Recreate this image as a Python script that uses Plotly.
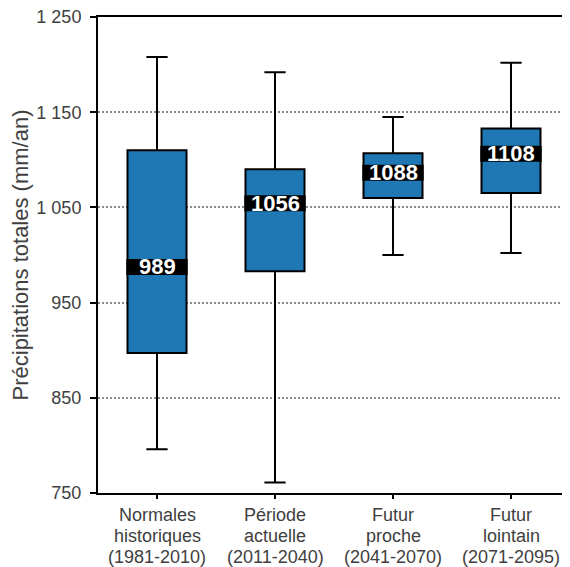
import plotly.graph_objects as go

categories = ["Normales<br>historiques<br>(1981-2010)",
              "Période<br>actuelle<br>(2011-2040)",
              "Futur<br>proche<br>(2041-2070)",
              "Futur<br>lointain<br>(2071-2095)"]
lower_whisker = [796, 761, 1000, 1002]
q1_values = [897, 983, 1060, 1065]
median_values = [989, 1056, 1088, 1108]
q3_values = [1110, 1090, 1107, 1133]
upper_whisker = [1208, 1192, 1145, 1202]

y_ticks = [750, 850, 950, 1050, 1150, 1250]
y_tick_labels = ["750", "850", "950", "1 050", "1 150", "1 250"]

positions = list(range(len(categories)))
BLUE = "#1f77b4"
TXT = "#404040"
FONT = "Liberation Sans, Arial"

fig = go.Figure()
fig.add_trace(go.Box(
    x=positions,
    q1=q1_values, median=median_values, q3=q3_values,
    lowerfence=lower_whisker, upperfence=upper_whisker,
    width=0.5, whiskerwidth=0.36,
    fillcolor=BLUE,
    line=dict(color="black", width=2),
    boxpoints=False, hoverinfo="skip", showlegend=False,
))

for i, m in zip(positions, median_values):
    fig.add_shape(type="rect", xref="x", yref="y", layer="above",
                  x0=i - 0.26, x1=i + 0.26,
                  ysizemode="pixel", yanchor=m, y0=-9.5, y1=6.5,
                  fillcolor="black", line=dict(width=0))
    fig.add_annotation(x=i, y=m, xref="x", yref="y", text=f"<b>{m}</b>",
                       showarrow=False, yshift=-1.5,
                       font=dict(family=FONT, size=22, color="white"))

# category labels, one annotation per line (tighter line spacing)
for i, label in zip(positions, categories):
    for k, line in enumerate(label.split("<br>")):
        fig.add_annotation(x=i, y=0, xref="x", yref="paper", text=line,
                           showarrow=False, yanchor="middle",
                           yshift=-(22 + k * 20.8),
                           font=dict(family=FONT, size=18, color=TXT))

fig.update_layout(
    width=562, height=559,
    margin=dict(l=90, r=0, t=9, b=74),
    plot_bgcolor="white", paper_bgcolor="white",
    font=dict(family=FONT, color=TXT),
    xaxis=dict(
        range=[-0.5, 3.5], tickvals=positions, ticktext=[""] * len(positions),
        showgrid=False, zeroline=False, automargin=False,
        showline=True, mirror=True, linecolor="black", linewidth=2,
        ticks="outside", ticklen=4, tickwidth=2, tickcolor="black",
    ),
    yaxis=dict(
        range=[750, 1250], tickvals=y_ticks, ticktext=y_tick_labels,
        showgrid=True, gridcolor="#8a8a8a", griddash="2px,2px", gridwidth=1.5,
        zeroline=False, automargin=False,
        showline=True, linecolor="black", linewidth=2,
        ticks="outside", ticklen=6, tickwidth=2, tickcolor="black",
        tickfont=dict(size=18, color=TXT),
        ticklabelstandoff=5, ticklabeloverflow="allow",
        title=dict(text="Précipitations totales (mm/an)", font=dict(size=22, color=TXT), standoff=10),
    ),
)

fig.write_html("out.html")
